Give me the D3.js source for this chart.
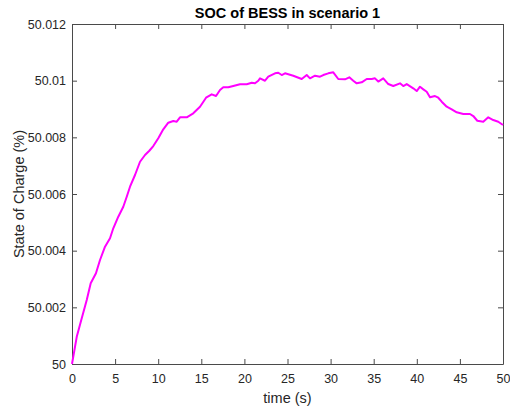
<!DOCTYPE html>
<html>
<head>
<meta charset="utf-8">
<script src="https://cdn.jsdelivr.net/npm/d3@7"></script>
<style>
  html, body { margin: 0; padding: 0; background: #fff; }
  svg { display: block; font-family: "Liberation Sans", Arial, Helvetica, sans-serif; }
</style>
</head>
<body>
<svg id="chart" width="510" height="410"></svg>
<script>
// Simulation time (s) and battery state of charge (%)
const timeSec = [0, 0.55, 1.13, 1.71, 2.17, 2.78, 3.25, 3.83, 4.41, 4.79, 5.37, 5.95, 6.35, 6.73, 7.31, 7.89, 8.47, 8.97, 9.43, 10.01,
  10.59, 11.17, 11.75, 12.15, 12.53, 13.31, 14.07, 14.85, 15.55, 16.21, 16.71, 17.17, 17.55, 18.13, 18.71, 19.49, 20.27, 20.85, 21.23, 21.61,
  21.81, 22.39, 22.77, 23.55, 23.93, 24.33, 24.71, 25.67, 26.65, 27.23, 27.61, 28.19, 28.77, 29.15, 29.73, 30.31, 30.89, 31.67, 32.17, 32.63,
  33.03, 33.61, 34.19, 34.77, 35.15, 35.53, 36.11, 36.69, 37.27, 38.05, 38.43, 38.83, 39.59, 39.99, 40.37, 40.76, 41.15, 41.53, 42.11, 42.49,
  42.89, 43.47, 44.05, 44.63, 45.39, 46.17, 46.55, 47.02, 47.71, 48.29, 48.87, 49.45, 50];
const socPct = [50, 50.00096, 50.001613, 50.002259, 50.002848, 50.003201, 50.00367, 50.00414, 50.004436, 50.004789, 50.005198, 50.005551, 50.005904, 50.006257, 50.00667, 50.007139, 50.007376, 50.007527, 50.007693, 50.007965,
  50.008283, 50.008516, 50.008576, 50.008551, 50.008706, 50.008706, 50.008847, 50.00908, 50.009398, 50.009518, 50.009458, 50.00967, 50.009765, 50.009765, 50.009811, 50.009871, 50.009871, 50.009927, 50.009906, 50.009998,
  50.010082, 50.009998, 50.010139, 50.010259, 50.01028, 50.010199, 50.010259, 50.010174, 50.010058, 50.010199, 50.010082, 50.010174, 50.010139, 50.010199, 50.010259, 50.010294, 50.010058, 50.010047, 50.010118, 50.009998,
  50.009906, 50.009941, 50.010058, 50.010058, 50.010082, 50.009969, 50.010082, 50.009881, 50.009811, 50.009906, 50.009811, 50.009881, 50.00973, 50.009634, 50.009786, 50.009694, 50.00961, 50.009412, 50.009458, 50.009398,
  50.009257, 50.00908, 50.008988, 50.008882, 50.008823, 50.008823, 50.008752, 50.008586, 50.008551, 50.008706, 50.008611, 50.008551, 50.008434];
const xTicks = [0, 5, 10, 15, 20, 25, 30, 35, 40, 45, 50];
const yTicks = [50, 50.002, 50.004, 50.006, 50.008, 50.01, 50.012];
const yTickLabels = ["50", "50.002", "50.004", "50.006", "50.008", "50.01", "50.012"];

const svg = d3.select("#chart");
const m = { left: 72, right: 503, top: 24, bottom: 364 };
const axisColor = "#4a4a4a";
const textColor = "#262626";

const x = d3.scaleLinear().domain([0, 50]).range([m.left, m.right]);
const y = d3.scaleLinear().domain([50, 50.012]).range([m.bottom, m.top]);

// Axes with inward ticks on all four sides (boxed plot)
function styleAxis(g) {
  g.select(".domain").attr("stroke", axisColor).attr("stroke-width", 1);
  g.selectAll(".tick line").attr("stroke", axisColor);
  g.selectAll(".tick text").attr("fill", textColor).attr("font-size", 12.5)
    .attr("font-family", "'Liberation Sans', Arial, sans-serif");
}

svg.append("g").attr("transform", `translate(0,${m.bottom})`)
  .call(d3.axisBottom(x).tickValues(xTicks).tickSizeInner(-5).tickSizeOuter(0).tickPadding(10))
  .call(styleAxis);
svg.append("g").attr("transform", `translate(0,${m.top})`)
  .call(d3.axisTop(x).tickValues(xTicks).tickSizeInner(-5).tickSizeOuter(0).tickFormat(""))
  .call(styleAxis);
svg.append("g").attr("transform", `translate(${m.left},0)`)
  .call(d3.axisLeft(y).tickValues(yTicks).tickSizeInner(-5).tickSizeOuter(0).tickPadding(6)
    .tickFormat((d, i) => yTickLabels[i]))
  .call(styleAxis);
svg.append("g").attr("transform", `translate(${m.right},0)`)
  .call(d3.axisRight(y).tickValues(yTicks).tickSizeInner(-5).tickSizeOuter(0).tickFormat(""))
  .call(styleAxis);

// SOC trace
const line = d3.line().x((d, i) => x(timeSec[i])).y(d => y(d));
svg.append("path")
  .datum(socPct)
  .attr("fill", "none")
  .attr("stroke", "#ff00ff")
  .attr("stroke-width", 2)
  .attr("stroke-linejoin", "round")
  .attr("d", line);

// Title and axis labels
svg.append("text")
  .attr("x", (m.left + m.right) / 2).attr("y", 18)
  .attr("text-anchor", "middle").attr("font-weight", "bold").attr("font-size", 14.5)
  .attr("fill", "#000")
  .text("SOC of BESS in scenario 1");
svg.append("text")
  .attr("x", (m.left + m.right) / 2).attr("y", 403)
  .attr("text-anchor", "middle").attr("font-size", 14.5).attr("fill", textColor)
  .text("time (s)");
svg.append("text")
  .attr("transform", `translate(24,${(m.top + m.bottom) / 2}) rotate(-90)`)
  .attr("text-anchor", "middle").attr("font-size", 14.5).attr("fill", textColor)
  .text("State of Charge (%)");
</script>
</body>
</html>
